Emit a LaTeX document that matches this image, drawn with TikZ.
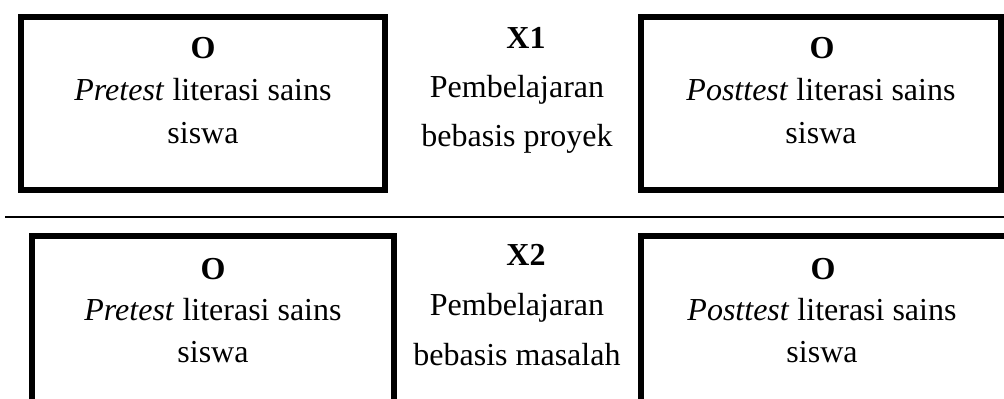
\documentclass[tikz,border=0pt]{standalone}
\usepackage{fontspec}
\setmainfont{Liberation Serif}
\usetikzlibrary{fit}
\begin{document}
\begin{tikzpicture}[x=0.5pt,y=-0.5pt,
  box/.style={draw=black, line width=2.75pt, inner sep=0pt, outer sep=0pt},
  txt/.style={anchor=base, inner sep=0pt, font=\fontsize{16}{21}\selectfont},
  rule/.style={draw=black, line width=1pt}]
\clip (0,0) rectangle (1004,398);
% boxes
\node[box, fit={(21,17) (385,190)}] (tl) {};
\node[box, fit={(641,17) (1001,190)}] (tr) {};
\node[box, fit={(32,236) (394,420)}] (bl) {};
\node[box, fit={(641,236) (1020,420)}] (br) {};
% separator
\coordinate (hl) at (5,217);
\coordinate (hr) at (1004,217);
\draw[rule] (hl) -- (hr);
% top left
\node[txt] (tlA) at (203,58) {\textbf{O}};
\node[txt] (tlB) at (203,100) {\textit{Pretest} literasi sains};
\node[txt] (tlC) at (203,143) {siswa};
% top middle
\node[txt] (tmA) at (526,48) {\textbf{X1}};
\node[txt] (tmB) at (517,97) {Pembelajaran};
\node[txt] (tmC) at (517,146) {bebasis proyek};
% top right
\node[txt] (trA) at (822,58) {\textbf{O}};
\node[txt] (trB) at (821,100) {\textit{Posttest} literasi sains};
\node[txt] (trC) at (821,143) {siswa};
% bottom left
\node[txt] (blA) at (213,279) {\textbf{O}};
\node[txt] (blB) at (213,320) {\textit{Pretest} literasi sains};
\node[txt] (blC) at (213,362) {siswa};
% bottom middle
\node[txt] (bmA) at (526,265) {\textbf{X2}};
\node[txt] (bmB) at (517,315) {Pembelajaran};
\node[txt] (bmC) at (517,365) {bebasis masalah};
% bottom right
\node[txt] (brA) at (823,279) {\textbf{O}};
\node[txt] (brB) at (822,320) {\textit{Posttest} literasi sains};
\node[txt] (brC) at (822,362) {siswa};
\end{tikzpicture}
\end{document}
